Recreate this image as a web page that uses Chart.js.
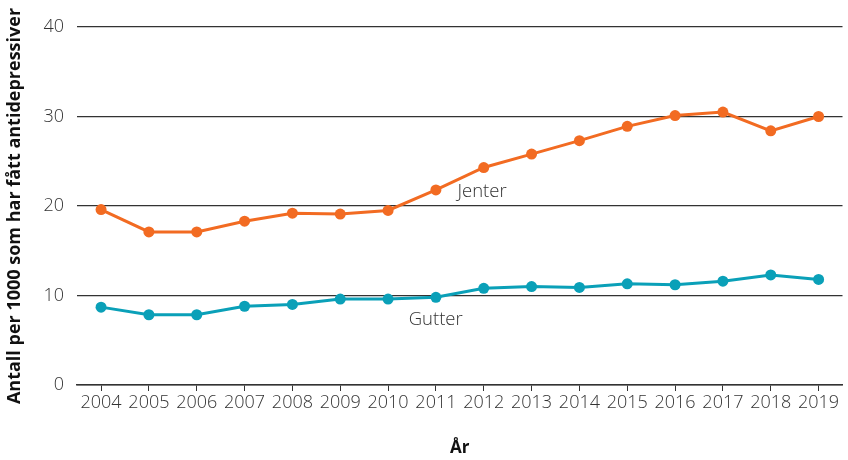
<!DOCTYPE html>
<html>
<head>
<meta charset="utf-8">
<script src="https://cdn.jsdelivr.net/npm/chart.js@4/dist/chart.umd.min.js"></script>
<style>
html,body{margin:0;padding:0;background:#fff;}
#wrap{width:848px;height:460px;position:relative;}
</style>
</head>
<body>
<div id="wrap"><canvas id="c" width="848" height="460"></canvas></div>
<script>
const years = ['2004','2005','2006','2007','2008','2009','2010','2011','2012','2013','2014','2015','2016','2017','2018','2019'];
const jenter = [19.6,17.1,17.1,18.3,19.2,19.1,19.5,21.8,24.3,25.8,27.3,28.9,30.1,30.5,28.4,30.0];
const gutter = [8.7,7.85,7.85,8.8,9.0,9.6,9.6,9.8,10.8,11.0,10.9,11.3,11.2,11.6,12.3,11.8];
const yTicks = [0,10,20,30,40];
const seriesNames = ['Jenter','Gutter'];

const FONT = "'Open Sans', 'Noto Sans', sans-serif";
const TEXT = '#333333';
const ORANGE = '#F26B22';
const TEAL = '#0AA0B8';

const labelPlugin = {
  id: 'seriesLabels',
  afterDatasetsDraw(chart) {
    const {ctx, scales:{x, y}} = chart;
    const at = (idx) => {
      const i = Math.floor(idx), f = idx - i;
      return x.getPixelForValue(i) + f * (x.getPixelForValue(i+1) - x.getPixelForValue(i));
    };
    ctx.save();
    ctx.font = "300 18.5px " + FONT;
    ctx.fillStyle = TEXT;
    ctx.textAlign = 'left';
    ctx.textBaseline = 'middle';
    ctx.fillText(seriesNames[0], at(7.45), y.getPixelForValue(21.6));
    ctx.fillText(seriesNames[1], at(6.43), y.getPixelForValue(7.3));
    ctx.restore();
  }
};

new Chart(document.getElementById('c'), {
  type: 'line',
  data: {
    labels: years,
    datasets: [
      {label: seriesNames[0], data: jenter, borderColor: ORANGE, backgroundColor: ORANGE,
       borderWidth: 3, pointRadius: 5.5, pointBorderWidth: 0, pointHoverRadius: 5.5, tension: 0},
      {label: seriesNames[1], data: gutter, borderColor: TEAL, backgroundColor: TEAL,
       borderWidth: 3, pointRadius: 5.5, pointBorderWidth: 0, pointHoverRadius: 5.5, tension: 0}
    ]
  },
  options: {
    responsive: false,
    animation: false,
    devicePixelRatio: 1,
    layout: {padding: {top: 27, right: 1, left: 4, bottom: 0}},
    plugins: {legend: {display: false}, tooltip: {enabled: false}},
    scales: {
      x: {
        type: 'category',
        offset: true,
        grid: {drawOnChartArea: false, drawTicks: true, tickLength: 6, color: '#333', lineWidth: 1},
        border: {display: true, color: '#333', width: 1.5},
        ticks: {color: TEXT, font: {family: FONT, size: 18, weight: 300}, padding: 1, maxRotation: 0, autoSkip: false},
        title: {display: true, text: 'År', color: '#111', font: {family: FONT, size: 17, weight: 'bold'}, padding: {top: 23, bottom: 2}}
      },
      y: {
        min: 0, max: 40,
        afterBuildTicks(axis) { axis.ticks = yTicks.map(v => ({value: v})); },
        grid: {drawTicks: false, color: '#333', lineWidth: 1.2},
        border: {display: false},
        ticks: {color: TEXT, font: {family: FONT, size: 18, weight: 300}, padding: 13},
        title: {display: true, text: 'Antall per 1000 som har fått antidepressiver', color: '#111',
                font: {family: FONT, size: 18, weight: 'bold'}, padding: {top: 0, bottom: 5}}
      }
    }
  },
  plugins: [labelPlugin]
});
</script>
</body>
</html>
